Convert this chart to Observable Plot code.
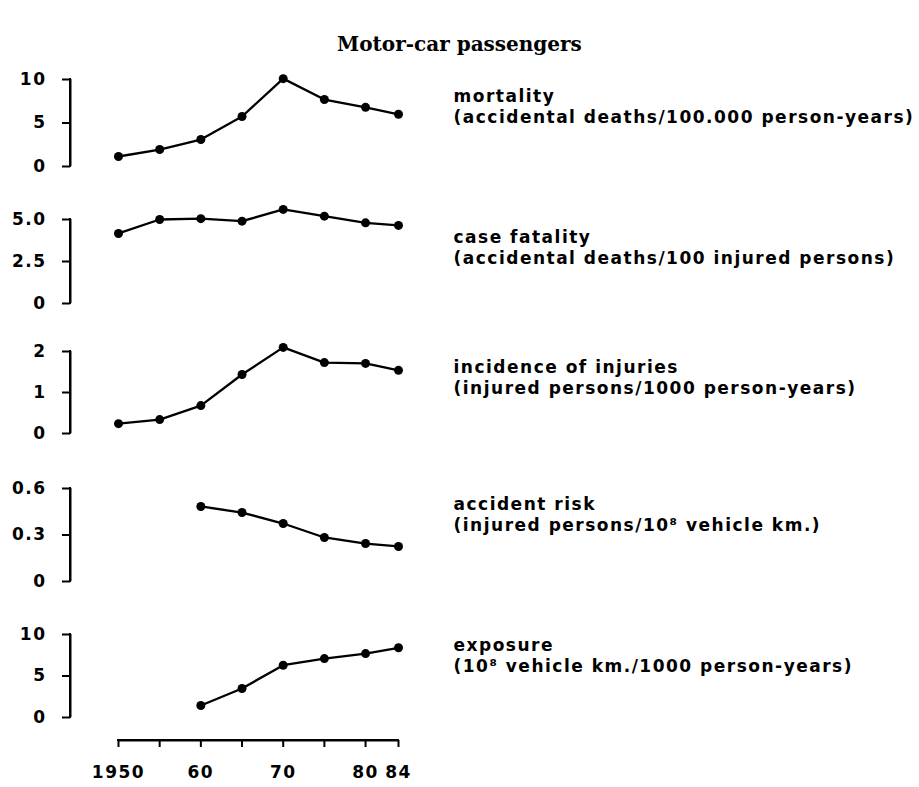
<!DOCTYPE html>
<html>
<head>
<meta charset="utf-8">
<script src="https://cdn.jsdelivr.net/npm/d3@7"></script>
<script src="https://cdn.jsdelivr.net/npm/@observablehq/plot@0.6"></script>
<style>
  html, body { margin: 0; padding: 0; background: #fff; }
  #chart { width: 919px; height: 787px; overflow: hidden; }
  #title { height: 60px; box-sizing: border-box; padding-top: 32px; line-height: 24px;
           text-align: center; font-family: "DejaVu Serif", serif; font-weight: bold; font-size: 20px; color: #000; }
  svg { display: block; }
  .lbl text { letter-spacing: 1.5px; }
  .tk text { letter-spacing: 1.5px; }
</style>
</head>
<body>
<div id="chart">
  <div id="title">Motor-car passengers</div>
</div>
<script>
// ---- data ----
const years = [1950, 1955, 1960, 1965, 1970, 1975, 1980, 1984];
const mortality = [1.15, 1.95, 3.1, 5.75, 10.1, 7.7, 6.8, 6.0];
const caseFatality = [4.17, 5.0, 5.05, 4.9, 5.6, 5.2, 4.8, 4.65];
const incidence = [0.24, 0.34, 0.68, 1.44, 2.1, 1.73, 1.71, 1.54];
const laterYears = [1960, 1965, 1970, 1975, 1980, 1984];
const accidentRisk = [0.484, 0.445, 0.374, 0.284, 0.245, 0.226];
const exposure = [1.45, 3.5, 6.3, 7.1, 7.7, 8.4];

const mortalityTicks = [0, 5, 10];
const mortalityTickLabels = ["0", "5", "10"];
const fatalityTicks = [0, 2.5, 5];
const fatalityTickLabels = ["0", "2.5", "5.0"];
const incidenceTicks = [0, 1, 2];
const incidenceTickLabels = ["0", "1", "2"];
const riskTicks = [0, 0.3, 0.6];
const riskTickLabels = ["0", "0.3", "0.6"];
const exposureTicks = [0, 5, 10];
const exposureTickLabels = ["0", "5", "10"];

const xTicks = [1950, 1955, 1960, 1965, 1970, 1975, 1980, 1984];
const xLabelYears = [1950, 1960, 1970, 1980, 1984];
const xLabels = ["1950", "60", "70", "80", "84"];

const seriesLabels = [
  "mortality\n(accidental deaths/100.000 person-years)",
  "case fatality\n(accidental deaths/100 injured persons)",
  "incidence of injuries\n(injured persons/1000 person-years)",
  "accident risk\n(injured persons/10\u2078 vehicle km.)",
  "exposure\n(10\u2078 vehicle km./1000 person-years)"
];

// ---- layout ----
const W = 919;
const xFirst = 1950, xLast = 1984;          // axis extent
const plotLeft = 118, plotRight = 398, spineGap = 48;
const pxPerYear = (plotRight - plotLeft) / (xLast - xFirst);
const xStart = xFirst - spineGap / pxPerYear; // y-axis spine sits left of 1950
const labelMap = new Map(xLabelYears.map((y, i) => [y, xLabels[i]]));

const panels = [
  {xs: years, ys: mortality, ticks: mortalityTicks, tl: mortalityTickLabels, label: seriesLabels[0], h: 135, mt: 19, mb: 29, ldy: 26.5},
  {xs: years, ys: caseFatality, ticks: fatalityTicks, tl: fatalityTickLabels, label: seriesLabels[1], h: 130, mt: 24, mb: 22, ldy: 27},
  {xs: years, ys: incidence, ticks: incidenceTicks, tl: incidenceTickLabels, label: seriesLabels[2], h: 140, mt: 26, mb: 32, ldy: 25},
  {xs: laterYears, ys: accidentRisk, ticks: riskTicks, tl: riskTickLabels, label: seriesLabels[3], h: 135, mt: 23, mb: 19, ldy: 25.5},
  {xs: laterYears, ys: exposure, ticks: exposureTicks, tl: exposureTickLabels, label: seriesLabels[4], h: 187, mt: 34, mb: 47, ldy: 20.5, xAxis: true, zeroPx: 83, axisGap: 23}
];

const chart = document.getElementById("chart");

for (const p of panels) {
  const data = p.xs.map((x, i) => ({x, y: p.ys[i]}));
  const yMax = p.ticks[p.ticks.length - 1];
  // for the bottom panel, extend the y domain below zero so the x axis sits a gap under the 0 tick
  const yMin = p.xAxis ? -p.axisGap * yMax / p.zeroPx : 0;
  const tickFmt = new Map(p.ticks.map((t, i) => [t, p.tl[i]]));
  const marks = [
    // y axis spine as a thin filled bar
    Plot.rect([{x1: xStart, x2: xStart, y1: p.ticks[0], y2: yMax}],
              {x1: "x1", x2: "x2", y1: "y1", y2: "y2", fill: "black",
               insetLeft: -1, insetRight: -1, insetTop: -1, insetBottom: -1}),
    Plot.ruleX([{x: xStart, a: p.ticks[0], b: yMax}], {x: "x", y1: "a", y2: "b", stroke: "black", strokeWidth: 2}),
    Plot.axisY({anchor: "left", ticks: p.ticks, tickFormat: d => tickFmt.get(d),
                tickSize: 8, tickPadding: 16, strokeWidth: 2, label: null,
                fontSize: 17, fontWeight: "bold", className: "tk"}),
    Plot.line(data, {x: "x", y: "y", stroke: "black", strokeWidth: 2.3}),
    Plot.dot(data, {x: "x", y: "y", r: 4.5, fill: "black", stroke: "none"}),
    Plot.text([p.label], {frameAnchor: "top-left", dx: 383, dy: p.ldy, textAnchor: "start",
                          lineAnchor: "middle", lineHeight: 21 / 17, fontSize: 17, fontWeight: "bold",
                          fill: "black", className: "lbl"})
  ];
  if (p.xAxis) {
    marks.push(
      Plot.rect([{x1: xFirst, x2: xLast, y1: yMin, y2: yMin}],
                {x1: "x1", x2: "x2", y1: "y1", y2: "y2", fill: "black",
                 insetLeft: -1, insetRight: -1, insetTop: -1, insetBottom: -1}),
      Plot.ruleY([{y: yMin, a: xFirst, b: xLast}], {y: "y", x1: "a", x2: "b", stroke: "black", strokeWidth: 2}),
      Plot.axisX({anchor: "bottom", ticks: xTicks, tickFormat: d => labelMap.get(d) ?? "",
                  tickSize: 7, tickPadding: 18, strokeWidth: 2, label: null, fontSize: 17, fontWeight: "bold",
                  className: "tk"})
    );
  }
  const svg = Plot.plot({
    width: W,
    height: p.h,
    marginLeft: plotLeft - spineGap,
    marginRight: W - plotRight,
    marginTop: p.mt,
    marginBottom: p.mb,
    x: {domain: [xStart, xLast], axis: null},
    y: {domain: [yMin, yMax], axis: null},
    style: {fontFamily: "'DejaVu Sans', sans-serif", color: "black", background: "white"},
    marks
  });
  chart.appendChild(svg);
}
</script>
</body>
</html>
